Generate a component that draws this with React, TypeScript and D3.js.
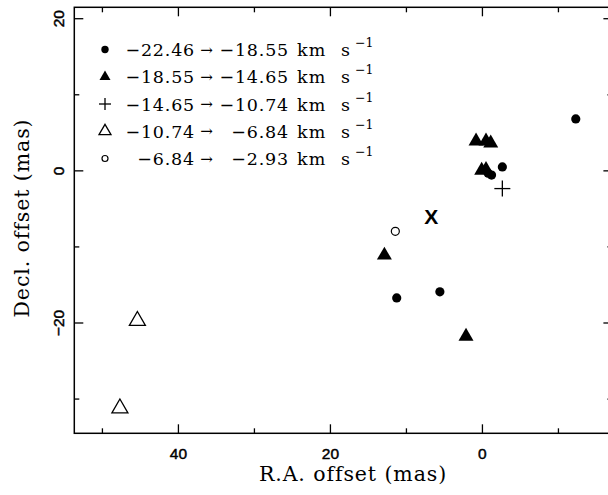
import React from "react";
import * as d3 from "d3";

// ---- data ----
const xDomain: [number, number] = [53.7, -17.1];
const yDomain: [number, number] = [21.5, -34.5];
const xMajorTicks = [40, 20, 0];
const xMinorTicks = [50, 30, 10, -10];
const yMajorTicks = [20, 0, -20];
const yMinorTicks = [10, -10, -30];

// series 1: −22.46 → −18.55 (filled circles)
const seriesFilledCircle: [number, number][] = [
  [-12.28, 6.82],
  [-2.62, 0.52],
  [-0.75, -0.3],
  [-1.2, -0.55],
  [11.28, -16.7],
  [5.6, -15.9],
];
// series 2: −18.55 → −14.65 (filled triangles)
const seriesFilledTriangle: [number, number][] = [
  [0.84, 3.9],
  [-0.47, 3.9],
  [-1.09, 3.65],
  [0.1, 0.05],
  [-0.47, 0.15],
  [12.9, -11.1],
  [2.16, -21.75],
];
// series 3: −14.65 → −10.74 (plus)
const seriesPlus: [number, number][] = [[-2.62, -2.33]];
// series 4: −10.74 → −6.84 (open triangles)
const seriesOpenTriangle: [number, number][] = [
  [45.4, -19.7],
  [47.7, -31.2],
];
// series 5: −6.84 → −2.93 (open circles)
const seriesOpenCircle: [number, number][] = [[11.46, -7.95]];
// reference position marked "X"
const markerX: [number, number] = [6.74, -6.0];

const legendFrom = [-22.46, -18.55, -14.65, -10.74, -6.84];
const legendTo = [-18.55, -14.65, -10.74, -6.84, -2.93];
const legendKinds = ["fc", "ft", "plus", "ot", "oc"];

const xTitle = "R.A. offset (mas)";
const yTitle = "Decl. offset (mas)";

// ---- layout ----
const W = 608;
const H = 495;
const left = 74.3;
const right = 612.4;
const top = 7.3;
const bottom = 433.3;

const x = d3.scaleLinear().domain(xDomain).range([left, right]);
const y = d3.scaleLinear().domain(yDomain).range([top, bottom]);
const fmt = d3.format(".2f");
const tickFmt = d3.format("d");

const serif = "'DejaVu Serif', serif";
const sans = "'Liberation Sans', Arial, sans-serif";

const tri = (side: number) =>
  d3.symbol().type(d3.symbolTriangle).size((Math.sqrt(3) / 4) * side * side)()!;

function Marker({ kind, cx, cy, big }: { kind: string; cx: number; cy: number; big: boolean }) {
  const t = `translate(${cx},${cy})`;
  if (kind === "fc") return <circle cx={cx} cy={cy} r={big ? 4.6 : 3.7} fill="#000" />;
  if (kind === "oc")
    return <circle cx={cx} cy={cy} r={big ? 4 : 3} fill="none" stroke="#000" strokeWidth={1.2} />;
  if (kind === "ft") return <path transform={t} d={tri(big ? 15 : 11)} fill="#000" />;
  if (kind === "ot")
    return <path transform={t} d={tri(big ? 16 : 12)} fill="none" stroke="#000" strokeWidth={1.3} />;
  const a = big ? 8 : 6;
  return (
    <g stroke="#000" strokeWidth={1.3}>
      <line x1={cx - a} x2={cx + a} y1={cy} y2={cy} />
      <line x1={cx} x2={cx} y1={cy - a} y2={cy + a} />
    </g>
  );
}

export default function App() {
  const rowBase = (i: number) => 56 + i * 27.25;
  return (
    <svg
      width={W}
      height={H}
      style={{ position: "absolute", left: 0, top: 0, background: "#fff" }}
    >
      <rect x={0} y={0} width={W} height={H} fill="#fff" />
      {/* frame */}
      <rect
        x={left}
        y={top}
        width={right - left}
        height={bottom - top}
        fill="none"
        stroke="#000"
        strokeWidth={1.5}
      />
      {/* ticks */}
      <g stroke="#000" strokeWidth={1.3}>
        {xMajorTicks.map((v) => (
          <g key={"xm" + v}>
            <line x1={x(v)} x2={x(v)} y1={bottom} y2={bottom - 9} />
            <line x1={x(v)} x2={x(v)} y1={top} y2={top + 9} />
          </g>
        ))}
        {xMinorTicks.map((v) => (
          <g key={"xn" + v}>
            <line x1={x(v)} x2={x(v)} y1={bottom} y2={bottom - 5} />
            <line x1={x(v)} x2={x(v)} y1={top} y2={top + 5} />
          </g>
        ))}
        {yMajorTicks.map((v) => (
          <g key={"ym" + v}>
            <line x1={left} x2={left + 9} y1={y(v)} y2={y(v)} />
            <line x1={right} x2={right - 9} y1={y(v)} y2={y(v)} />
          </g>
        ))}
        {yMinorTicks.map((v) => (
          <g key={"yn" + v}>
            <line x1={left} x2={left + 5} y1={y(v)} y2={y(v)} />
            <line x1={right} x2={right - 5} y1={y(v)} y2={y(v)} />
          </g>
        ))}
      </g>
      {/* tick labels */}
      <g fontFamily={sans} fontSize={15.5} fill="#000" stroke="#000" strokeWidth={0.45}>
        {xMajorTicks.map((v) => (
          <text key={"xl" + v} x={x(v)} y={458.5} textAnchor="middle">
            {tickFmt(v)}
          </text>
        ))}
        {yMajorTicks.map((v) => (
          <text
            key={"yl" + v}
            transform={`translate(63.5,${y(v)}) rotate(-90)`}
            textAnchor="middle"
          >
            {tickFmt(v)}
          </text>
        ))}
      </g>
      {/* axis titles */}
      <text x={353} y={481} textAnchor="middle" fontFamily={serif} fontSize={20.5} letterSpacing={0.9}>
        {xTitle}
      </text>
      <text
        transform={`translate(29,218) rotate(-90)`}
        textAnchor="middle"
        fontFamily={serif}
        fontSize={20.5}
        letterSpacing={0.9}
      >
        {yTitle}
      </text>
      {/* data */}
      {seriesFilledCircle.map((d, i) => (
        <Marker key={"a" + i} kind="fc" cx={x(d[0])} cy={y(d[1])} big />
      ))}
      {seriesFilledTriangle.map((d, i) => (
        <Marker key={"b" + i} kind="ft" cx={x(d[0])} cy={y(d[1])} big />
      ))}
      {seriesPlus.map((d, i) => (
        <Marker key={"c" + i} kind="plus" cx={x(d[0])} cy={y(d[1])} big />
      ))}
      {seriesOpenTriangle.map((d, i) => (
        <Marker key={"d" + i} kind="ot" cx={x(d[0])} cy={y(d[1])} big />
      ))}
      {seriesOpenCircle.map((d, i) => (
        <Marker key={"e" + i} kind="oc" cx={x(d[0])} cy={y(d[1])} big />
      ))}
      <text
        x={x(markerX[0])}
        y={y(markerX[1])}
        dy={7.5}
        textAnchor="middle"
        fontFamily={sans}
        fontWeight="bold"
        fontSize={21}
      >
        X
      </text>
      {/* legend */}
      <g fontFamily={serif} fill="#000">
        {legendKinds.map((k, i) => {
          const b = rowBase(i);
          return (
            <g key={"lg" + i}>
              <Marker kind={k} cx={105} cy={b - 6.5} big={false} />
              <text x={195} y={b} textAnchor="end" fontSize={17.5} letterSpacing={0.8}>
                {fmt(legendFrom[i])}
              </text>
              <text x={206.5} y={b - 1.5} textAnchor="middle" fontSize={15}>
                →
              </text>
              <text x={289} y={b} textAnchor="end" fontSize={17.5} letterSpacing={0.8}>
                {fmt(legendTo[i])}
              </text>
              <text x={297} y={b} fontSize={17.5} letterSpacing={1.2}>
                km
              </text>
              <text x={341} y={b} fontSize={17.5}>
                s
              </text>
              <text x={355} y={b - 9} fontSize={12.5}>
                −1
              </text>
            </g>
          );
        })}
      </g>
    </svg>
  );
}
